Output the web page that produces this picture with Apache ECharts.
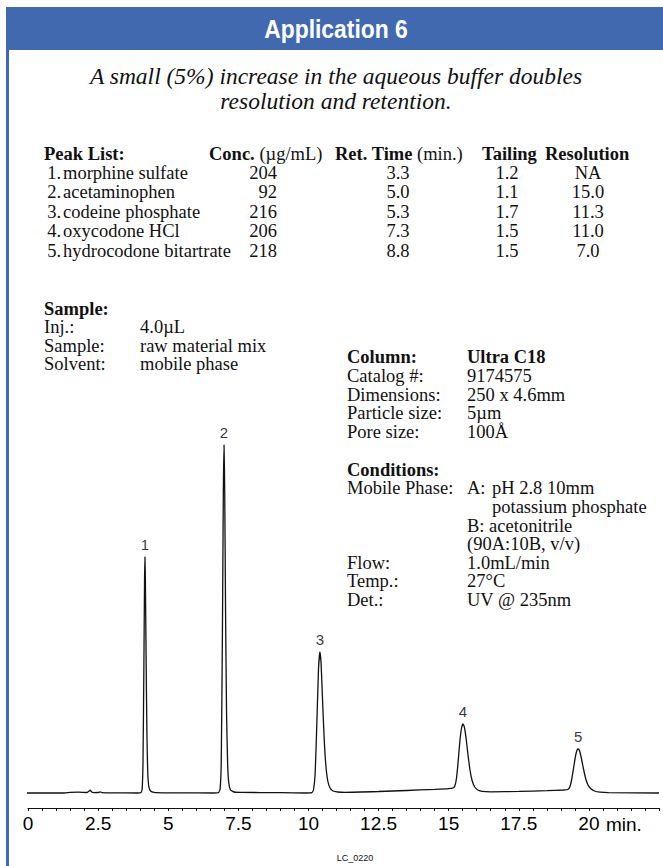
<!DOCTYPE html>
<html>
<head>
<meta charset="utf-8">
<script src="https://cdn.jsdelivr.net/npm/echarts/dist/echarts.min.js"></script>
<style>
html,body{margin:0;padding:0;background:#fff;}
#page{position:relative;width:663px;height:866px;overflow:hidden;background:#fff;}
#chart{position:absolute;left:0;top:0;width:663px;height:866px;z-index:1;}
#header{position:absolute;left:6px;top:7px;width:657px;height:43px;background:#4169b0;z-index:0;}
#border{position:absolute;left:6px;top:50px;width:3px;height:816px;background:#4169b0;z-index:0;}
.t{position:absolute;white-space:nowrap;font-family:"Liberation Serif","Times New Roman",serif;font-size:18.5px;line-height:18.5px;color:#111;z-index:2;}
.sans{font-family:"Liberation Sans",Arial,Helvetica,sans-serif;}
b{font-weight:bold;}
</style>
</head>
<body>
<div id="page">
  <div id="header"></div>
  <div id="border"></div>
  <div id="chart"></div>
</div>
<script>
// ---------------- DATA ----------------
const titleText = 'Application 6';
const subtitleLines = ['A small (5%) increase in the aqueous buffer doubles', 'resolution and retention.'];

const tableHeaders = ['<b>Peak List:</b>', '<b>Conc.</b> (µg/mL)', '<b>Ret. Time</b> (min.)', '<b>Tailing</b>', '<b>Resolution</b>'];
const peakNumbers = ['1.', '2.', '3.', '4.', '5.'];
const peakNames = ['morphine sulfate', 'acetaminophen', 'codeine phosphate', 'oxycodone HCl', 'hydrocodone bitartrate'];
const concValues = ['204', '92', '216', '206', '218'];
const retTimes = ['3.3', '5.0', '5.3', '7.3', '8.8'];
const tailingValues = ['1.2', '1.1', '1.7', '1.5', '1.5'];
const resolutionValues = ['NA', '15.0', '11.3', '11.0', '7.0'];

const sampleTitle = 'Sample:';
const sampleLabels = ['Inj.:', 'Sample:', 'Solvent:'];
const sampleValues = ['4.0µL', 'raw material mix', 'mobile phase'];

const columnTitle = ['Column:', 'Ultra C18'];
const columnLabels = ['Catalog #:', 'Dimensions:', 'Particle size:', 'Pore size:'];
const columnValues = ['9174575', '250 x 4.6mm', '5µm', '100Å'];

const conditionsTitle = 'Conditions:';
const mobilePhaseLabel = 'Mobile Phase:';
const mobilePhaseLines = [['A:', 'pH 2.8 10mm'], ['', 'potassium phosphate'], ['B: acetonitrile', ''], ['(90A:10B, v/v)', '']];
const condLabels = ['Flow:', 'Temp.:', 'Det.:'];
const condValues = ['1.0mL/min', '27°C', 'UV @ 235nm'];

const footnote = 'LC_0220';

// chromatogram trace: [time (min), detector signal]
const baselineStart = [[-0.25, 0], [0, 0], [1.3, 0], [1.5, 0.6], [1.8, 0.8], [2.1, 0.5], [2.17, 1.8], [2.22, 2.8], [2.27, 1.0], [2.35, 0.4], [2.52, 0.5], [2.58, 1.2], [2.64, 0.4], [3.0, 0.1], [3.9, 0]];
const peak1Trace = [[4.03, 0.5], [4.07, 4], [4.10, 30], [4.13, 120], [4.155, 210], [4.17, 236], [4.185, 215], [4.21, 140], [4.24, 60], [4.27, 20], [4.31, 6], [4.37, 2], [4.5, 0.6], [4.8, 0.2]];
const gap12 = [[5.5, 0.1], [6.6, 0]];
const peak2Trace = [[6.80, 0.5], [6.85, 4], [6.89, 30], [6.93, 150], [6.965, 300], [6.99, 348], [7.015, 300], [7.045, 180], [7.08, 80], [7.12, 28], [7.16, 10], [7.22, 3], [7.35, 1], [7.6, 0.6]];
const gap23 = [[9.0, 0.3], [9.9, 0]];
const peak3Trace = [[10.12, 0.3], [10.18, 3], [10.24, 20], [10.30, 70], [10.36, 125], [10.41, 141], [10.45, 130], [10.50, 95], [10.56, 55], [10.62, 28], [10.69, 12], [10.77, 5], [10.88, 2], [11.05, 1], [11.3, 0.7]];
const gap34 = [[12.5, 1.5], [13.5, 2.5], [14.5, 3.6], [15.0, 4.3]];
const peak4Trace = [[15.15, 5], [15.22, 7], [15.28, 15], [15.34, 32], [15.40, 52], [15.46, 65], [15.51, 69], [15.56, 66], [15.62, 55], [15.69, 38], [15.76, 23], [15.84, 12], [15.93, 6], [16.04, 3], [16.2, 1.6], [16.5, 1.2]];
const gap45 = [[17.5, 1.6], [18.5, 2.3], [19.1, 3]];
const peak5Trace = [[19.25, 3.5], [19.32, 6], [19.39, 14], [19.46, 26], [19.53, 38], [19.58, 43], [19.62, 44], [19.67, 42], [19.73, 35], [19.80, 25], [19.88, 15], [19.96, 8.5], [20.06, 4.5], [20.2, 2], [20.4, 0.8], [20.7, 0.3]];
const baselineEnd = [[22.5, 0]];

const peakLabels = ['1', '2', '3', '4', '5'];
const peakApexes = [[4.17, 236], [6.99, 348], [10.41, 141], [15.51, 69], [19.62, 44]];

const tickValues = [0, 2.5, 5, 7.5, 10, 12.5, 15, 17.5, 20];
const tickLabels = ['0', '2.5', '5', '7.5', '10', '12.5', '15', '17.5', '20'];
const axisUnit = 'min.';

// ---------------- TEXT ----------------
const page = document.getElementById('page');
function place(html, x, y, opt) {
  opt = opt || {};
  const d = document.createElement('div');
  d.className = 't' + (opt.sans ? ' sans' : '');
  d.innerHTML = html;
  const size = opt.size || 18.5;
  d.style.fontSize = size + 'px';
  d.style.lineHeight = size + 'px';
  d.style.left = x + 'px';
  d.style.top = (y - size / 2) + 'px';
  if (opt.bold) d.style.fontWeight = 'bold';
  if (opt.italic) d.style.fontStyle = 'italic';
  if (opt.color) d.style.color = opt.color;
  const sx = opt.scaleX ? ' scaleX(' + opt.scaleX + ')' : '';
  if (opt.align === 'center') d.style.transform = 'translateX(-50%)' + sx;
  else if (opt.align === 'right') d.style.transform = 'translateX(-100%)' + sx;
  else if (sx) d.style.transform = sx;
  page.appendChild(d);
  return d;
}

place(titleText, 336, 28.5, {sans: true, bold: true, size: 26, color: '#fff', align: 'center', scaleX: 0.88});
subtitleLines.forEach((s, i) => place(s, 336, 77 + i * 25, {italic: true, size: 23.5, align: 'center'}));

// table
const headerY = 154, rowY0 = 173, rowStep = 19.5;
place(tableHeaders[0], 44, headerY);
place(tableHeaders[1], 209, headerY);
place(tableHeaders[2], 335, headerY);
place(tableHeaders[3], 482, headerY);
place(tableHeaders[4], 545, headerY);
peakNames.forEach((n, i) => {
  const y = rowY0 + i * rowStep;
  place(peakNumbers[i], 61, y, {align: 'right'});
  place(n, 63, y);
  place(concValues[i], 277, y, {align: 'right'});
  place(retTimes[i], 398, y, {align: 'center'});
  place(tailingValues[i], 507, y, {align: 'center'});
  place(resolutionValues[i], 588, y, {align: 'center'});
});

// sample block
place(sampleTitle, 44, 309, {bold: true});
sampleLabels.forEach((l, i) => {
  const y = 327.5 + i * 18.6;
  place(l, 44, y);
  place(sampleValues[i], 140, y);
});

// column block
place(columnTitle[0], 347, 357, {bold: true});
place(columnTitle[1], 467, 357, {bold: true});
columnLabels.forEach((l, i) => {
  const y = 376 + i * 18.8;
  place(l, 347, y);
  place(columnValues[i], 467, y);
});

// conditions block
place(conditionsTitle, 347, 470, {bold: true});
place(mobilePhaseLabel, 347, 488.5);
place(mobilePhaseLines[0][0], 467, 488.5);
place(mobilePhaseLines[0][1], 492, 488.5);
place(mobilePhaseLines[1][1], 492, 507);
place(mobilePhaseLines[2][0], 467, 526);
place(mobilePhaseLines[3][0], 467, 544.5);
condLabels.forEach((l, i) => {
  const y = 563 + i * 18.6;
  place(l, 347, y);
  place(condValues[i], 467, y);
});

place(axisUnit, 606, 824.5, {sans: true, size: 19, color: '#000'});
place(footnote, 355, 858, {sans: true, size: 9, align: 'center'});

// ---------------- CHART ----------------
const SANS = '"Liberation Sans",Arial,Helvetica,sans-serif';
const trace = [].concat(baselineStart, peak1Trace, gap12, peak2Trace, gap23, peak3Trace, gap34, peak4Trace, gap45, peak5Trace, baselineEnd);

const chart = echarts.init(document.getElementById('chart'), null, {renderer: 'svg', width: 663, height: 866});
chart.setOption({
  animation: false,
  backgroundColor: 'transparent',
  grid: {left: 28, right: 4, top: 400, bottom: 58, containLabel: false, outerBoundsMode: 'none'},
  xAxis: {
    type: 'value', min: 0, max: 22.5, interval: 2.5,
    axisLine: {show: true, onZero: false, lineStyle: {color: '#111', width: 1.2}},
    axisTick: {show: true, length: 3, lineStyle: {color: '#111', width: 1}},
    minorTick: {show: true, splitNumber: 5, length: 3, lineStyle: {color: '#111', width: 1}},
    splitLine: {show: false}, minorSplitLine: {show: false},
    axisLabel: {
      show: true, margin: 6, fontSize: 19, fontFamily: SANS, color: '#000',
      showMaxLabel: false,
      formatter: function (v) {
        const i = tickValues.findIndex(t => Math.abs(t - v) < 1e-6);
        return i >= 0 ? tickLabels[i] : '';
      }
    }
  },
  yAxis: {type: 'value', min: -15, max: 393, show: false, splitLine: {show: false}},
  series: [
    {
      type: 'line', data: trace, showSymbol: false, symbol: 'none', smooth: 0.15, clip: false,
      lineStyle: {color: '#111', width: 1.3}, silent: true
    },
    {
      type: 'scatter', data: peakApexes, symbolSize: 1, itemStyle: {color: 'rgba(0,0,0,0)'},
      label: {
        show: true, position: 'top', distance: 5, fontSize: 15, fontFamily: SANS, color: '#000',
        formatter: p => peakLabels[p.dataIndex]
      },
      silent: true
    }
  ]
});
</script>
</body>
</html>
